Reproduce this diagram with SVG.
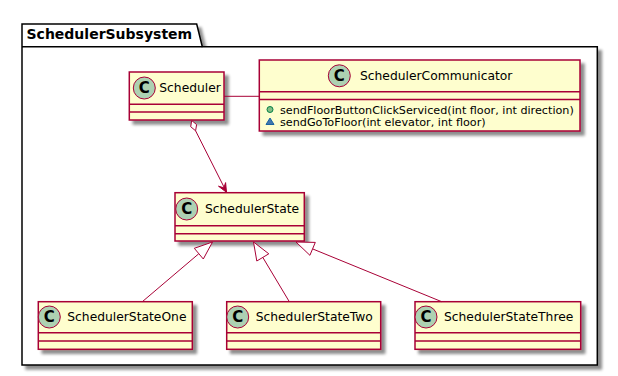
<svg xmlns="http://www.w3.org/2000/svg" width="618" height="376" viewBox="0 0 618 376">
  <defs>
    <filter id="shadow" x="-10%" y="-10%" width="130%" height="140%">
      <feGaussianBlur in="SourceAlpha" stdDeviation="1.8"/>
      <feOffset dx="4" dy="4" result="blur"/>
      <feComponentTransfer><feFuncA type="linear" slope="0.45"/></feComponentTransfer>
      <feMerge><feMergeNode/><feMergeNode in="SourceGraphic"/></feMerge>
    </filter>
    <g id="spot">
      <circle r="11" fill="#ADD1B2" stroke="#A80036" stroke-width="1"/>
      <text class="spot" x="0" y="5.2" text-anchor="middle">C</text>
    </g>
  </defs>
  <style>
    text { font-family: "DejaVu Sans", "Liberation Sans", sans-serif; fill: #000; }
    .box { fill: #FEFECE; stroke: #A80036; stroke-width: 1.5; }
    .sep { stroke: #A80036; stroke-width: 1.5; }
    .name { font-size: 12.3px; }
    .member { font-size: 11.2px; }
    .spot { font-size: 15px; font-weight: bold; }
    .pkg { fill: #FFFFFF; stroke: #000000; stroke-width: 1.5; }
    .pkgtitle { font-size: 14px; font-weight: bold; }
    .link { fill: none; stroke: #A80036; stroke-width: 1; }
    .hollow { fill: #FFFFFF; stroke: #A80036; stroke-width: 1; }
    .solid { fill: #A80036; stroke: #A80036; stroke-width: 1; }
  </style>

  <!-- package frame -->
  <g id="SchedulerSubsystem" filter="url(#shadow)">
    <path class="pkg" d="M22,46.7 L22,24 L196.7,24 L202.3,46.7 L597.3,46.7 L597.3,365 L22,365 Z"/>
    <line x1="22" y1="46.7" x2="202.3" y2="46.7" stroke="#000" stroke-width="1.5"/>
  </g>
  <text class="pkgtitle" x="26.5" y="39">SchedulerSubsystem</text>

  <!-- classes -->
  <g id="Scheduler">
    <rect class="box" x="129.3" y="72" width="94.7" height="48" filter="url(#shadow)"/>
    <line class="sep" x1="129.3" y1="104.3" x2="224" y2="104.3"/>
    <line class="sep" x1="129.3" y1="112" x2="224" y2="112"/>
    <use href="#spot" x="144.3" y="88"/>
    <text class="name" x="159.3" y="92">Scheduler</text>
  </g>

  <g id="SchedulerCommunicator">
    <rect class="box" x="259.3" y="60" width="320.7" height="71" filter="url(#shadow)"/>
    <line class="sep" x1="259.3" y1="91.7" x2="580" y2="91.7"/>
    <line class="sep" x1="259.3" y1="99.5" x2="580" y2="99.5"/>
    <use href="#spot" x="339.3" y="75.8"/>
    <text class="name" x="360" y="80">SchedulerCommunicator</text>
    <circle cx="270" cy="109.5" r="3" fill="#84BE84" stroke="#038048" stroke-width="1"/>
    <text class="member" x="280" y="113.5">sendFloorButtonClickServiced(int floor, int direction)</text>
    <polygon points="266,124.5 274,124.5 270,118" fill="#4177AF" stroke="#1963A0" stroke-width="1"/>
    <text class="member" x="280" y="126">sendGoToFloor(int elevator, int floor)</text>
  </g>

  <g id="SchedulerState">
    <rect class="box" x="175" y="192.7" width="129.3" height="48.3" filter="url(#shadow)"/>
    <line class="sep" x1="175" y1="225.7" x2="304.3" y2="225.7"/>
    <line class="sep" x1="175" y1="233.7" x2="304.3" y2="233.7"/>
    <use href="#spot" x="186.7" y="209"/>
    <text class="name" x="205" y="213.3">SchedulerState</text>
  </g>

  <g id="SchedulerStateOne">
    <rect class="box" x="38.3" y="301.7" width="154" height="47.6" filter="url(#shadow)"/>
    <line class="sep" x1="38.3" y1="332.7" x2="192.3" y2="332.7"/>
    <line class="sep" x1="38.3" y1="341" x2="192.3" y2="341"/>
    <use href="#spot" x="49.3" y="317"/>
    <text class="name" x="67.3" y="321.3">SchedulerStateOne</text>
  </g>

  <g id="SchedulerStateTwo">
    <rect class="box" x="226.7" y="301.7" width="154" height="47.6" filter="url(#shadow)"/>
    <line class="sep" x1="226.7" y1="332.7" x2="380.7" y2="332.7"/>
    <line class="sep" x1="226.7" y1="341" x2="380.7" y2="341"/>
    <use href="#spot" x="237.7" y="317"/>
    <text class="name" x="255.7" y="321.3">SchedulerStateTwo</text>
  </g>

  <g id="SchedulerStateThree">
    <rect class="box" x="415" y="301.7" width="165.7" height="47.6" filter="url(#shadow)"/>
    <line class="sep" x1="415" y1="332.7" x2="580.7" y2="332.7"/>
    <line class="sep" x1="415" y1="341" x2="580.7" y2="341"/>
    <use href="#spot" x="426" y="317"/>
    <text class="name" x="444" y="321.3">SchedulerStateThree</text>
  </g>

  <!-- relations -->
  <g id="connectors">
    <!-- association: Scheduler to SchedulerCommunicator -->
    <line class="link" x1="224" y1="96.3" x2="259.3" y2="96.3"/>

    <!-- aggregation: Scheduler holds SchedulerState -->
    <polygon class="hollow" points="191.7,120.5 196.6,124.6 195.6,130.8 190.7,126.7"/>
    <line class="link" x1="195.6" y1="130.8" x2="226.5" y2="192"/>
    <polygon class="solid" points="226.5,192.3 225.6,182.6 223.9,187.8 218.5,186.2"/>

    <!-- generalization: SchedulerStateOne extends SchedulerState -->
    <line class="link" x1="198.8" y1="253.7" x2="142.3" y2="301.7"/>
    <polygon class="hollow" points="212.5,242 203.3,259 194.3,248.3"/>

    <!-- generalization: SchedulerStateTwo extends SchedulerState -->
    <line class="link" x1="262.8" y1="257.4" x2="289.3" y2="301.7"/>
    <polygon class="hollow" points="253.5,242 268.8,253.8 256.8,261"/>

    <!-- generalization: SchedulerStateThree extends SchedulerState -->
    <line class="link" x1="312.6" y1="248.9" x2="441.7" y2="301.7"/>
    <polygon class="hollow" points="296,242 315.3,242.4 309.9,255.3"/>
  </g>
</svg>
